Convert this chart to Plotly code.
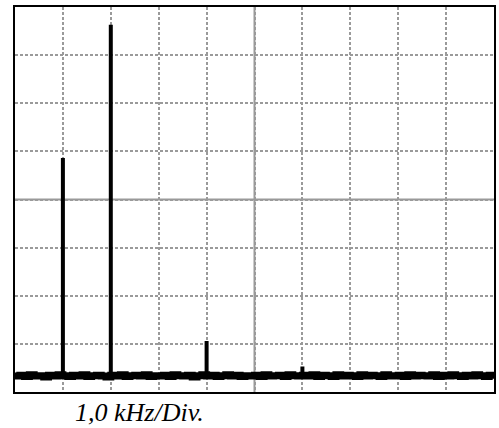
import plotly.graph_objects as go

# Frequency axis (kHz), 10 divisions of 1.0 kHz; amplitude axis in divisions (8)
noise_x = [i / 10 for i in range(101)]
noise_y = [0.33, 0.35, 0.32, 0.36, 0.33, 0.34, 0.31, 0.35, 0.33, 0.36,
           0.34, 0.32, 0.35, 0.33, 0.36, 0.32, 0.34, 0.35, 0.33, 0.31,
           0.35, 0.33, 0.36, 0.32, 0.34, 0.35, 0.33, 0.36, 0.32, 0.34,
           0.33, 0.35, 0.32, 0.36, 0.34, 0.33, 0.35, 0.31, 0.34, 0.36,
           0.33, 0.35, 0.32, 0.34, 0.36, 0.33, 0.35, 0.32, 0.34, 0.33,
           0.35, 0.32, 0.36, 0.33, 0.34, 0.35, 0.32, 0.36, 0.34, 0.33,
           0.35, 0.33, 0.36, 0.32, 0.35, 0.34, 0.32, 0.36, 0.33, 0.35,
           0.34, 0.32, 0.36, 0.33, 0.35, 0.34, 0.32, 0.36, 0.33, 0.34,
           0.35, 0.32, 0.36, 0.33, 0.35, 0.34, 0.33, 0.36, 0.32, 0.35,
           0.33, 0.36, 0.34, 0.32, 0.35, 0.33, 0.36, 0.34, 0.32, 0.35, 0.34]

peak_freq = [1.0, 2.0, 4.0, 6.0]
peak_amp = [4.86, 7.63, 1.06, 0.53]
floor_level = 0.33

fig = go.Figure()
fig.add_trace(go.Scatter(x=noise_x, y=noise_y, mode="lines",
                         line=dict(color="black", width=7, shape="hv"),
                         hoverinfo="skip", showlegend=False))
for f, a in zip(peak_freq, peak_amp):
    fig.add_trace(go.Scatter(x=[f, f], y=[floor_level, a], mode="lines",
                             line=dict(color="black", width=4),
                             showlegend=False))

# solid centre lines
fig.add_shape(type="line", x0=5, x1=5, y0=0, y1=8, xref="x", yref="y",
              line=dict(color="#999999", width=2), layer="below")
fig.add_shape(type="line", x0=0, x1=10, y0=4, y1=4, xref="x", yref="y",
              line=dict(color="#999999", width=2), layer="below")

axis_common = dict(showgrid=True, gridcolor="#9a9a9a", griddash="3px,2px",
                   gridwidth=1.5, zeroline=False, showticklabels=False,
                   ticks="", showline=True, linecolor="black", linewidth=2,
                   mirror=True, dtick=1)
fig.update_xaxes(range=[0, 10], tick0=0, **axis_common)
fig.update_yaxes(range=[0, 8], tick0=0, **axis_common)

fig.add_annotation(text="1,0 kHz/Div.", xref="paper", yref="paper",
                   x=0.26, y=-0.052, showarrow=False,
                   font=dict(family="Liberation Serif", size=26, color="black",
                             style="italic"),
                   xanchor="center", yanchor="middle")

fig.update_layout(width=499, height=428, margin=dict(l=15, r=3, t=7, b=36),
                  paper_bgcolor="white", plot_bgcolor="white")

fig.write_html("out.html")
